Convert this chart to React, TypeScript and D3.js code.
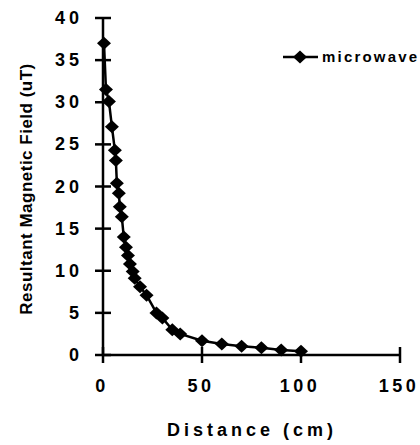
import React from "react";
import * as d3 from "d3";

const distance = [0.5, 1.5, 3, 4.5, 6, 6.5, 7, 8, 8.5, 9.5, 10.5, 11.6, 12.6, 13.6, 15, 16, 18.7, 22, 27, 30, 35, 39, 50, 60, 70, 80, 90, 100];
const field = [37.0, 31.5, 30.1, 27.1, 24.3, 23.1, 20.4, 19.2, 17.6, 16.4, 14.0, 12.8, 11.8, 10.8, 9.9, 9.1, 8.1, 7.1, 5.0, 4.4, 3.0, 2.5, 1.7, 1.3, 1.05, 0.85, 0.6, 0.45];
const xTicks = [0, 50, 100, 150];
const yTicks = [0, 5, 10, 15, 20, 25, 30, 35, 40];
const seriesName = "microwave";

const W = 420;
const H = 445;
const font = "'Liberation Sans', Arial, sans-serif";

export default function App() {
  const x = d3.scaleLinear().domain([0, 150]).range([103, 400]);
  const y = d3.scaleLinear().domain([0, 40]).range([355, 18]);
  const pts = distance.map((d, i) => [x(d), y(field[i])] as [number, number]);
  const line = d3.line()(pts) || "";
  const diamond = (cx: number, cy: number) =>
    `M${cx},${cy - 6.5}L${cx + 7},${cy}L${cx},${cy + 6.5}L${cx - 7},${cy}Z`;
  const legY = 57;
  return (
    <svg width={W} height={H} style={{ position: "absolute", left: 0, top: 0, background: "#fff" }}>
      <rect width={W} height={H} fill="#fff" />
      {/* axes */}
      <line x1={x(0)} x2={x(0)} y1={y(40)} y2={y(0)} stroke="#000" strokeWidth={2.5} />
      <line x1={x(0)} x2={x(150)} y1={y(0)} y2={y(0)} stroke="#000" strokeWidth={2.5} />
      {yTicks.map((t) => (
        <g key={"y" + t}>
          <line x1={x(0) - 8} x2={x(0) + 8} y1={y(t)} y2={y(t)} stroke="#000" strokeWidth={2.5} />
          <text x={83} y={y(t) + 6} textAnchor="end" fontFamily={font} fontWeight="bold" fontSize={18} letterSpacing={4}>
            {t}
          </text>
        </g>
      ))}
      {xTicks.map((t) => (
        <g key={"x" + t}>
          <line x1={x(t)} x2={x(t)} y1={y(0) - 8} y2={y(0) + 8} stroke="#000" strokeWidth={2.5} />
          <text x={x(t) - 1} y={y(0) + 37} textAnchor="middle" fontFamily={font} fontWeight="bold" fontSize={18} letterSpacing={3.5}>
            {t}
          </text>
        </g>
      ))}
      <text x={252} y={436} textAnchor="middle" fontFamily={font} fontWeight="bold" fontSize={18} letterSpacing={4}>
        Distance (cm)
      </text>
      <text
        transform={`translate(32,189) rotate(-90)`}
        textAnchor="middle"
        fontFamily={font}
        fontWeight="bold"
        fontSize={17}
        letterSpacing={0.5}
      >
        Resultant Magnetic Field (uT)
      </text>
      {/* series */}
      <path d={line} fill="none" stroke="#000" strokeWidth={2.5} />
      {pts.map((p, i) => (
        <path key={i} d={diamond(p[0], p[1])} fill="#000" />
      ))}
      {/* legend */}
      <line x1={283} x2={318} y1={legY} y2={legY} stroke="#000" strokeWidth={2.5} />
      <path d={diamond(300, legY)} fill="#000" />
      <text x={322} y={legY + 5} fontFamily={font} fontWeight="bold" fontSize={15} letterSpacing={2.2}>
        {seriesName}
      </text>
    </svg>
  );
}
